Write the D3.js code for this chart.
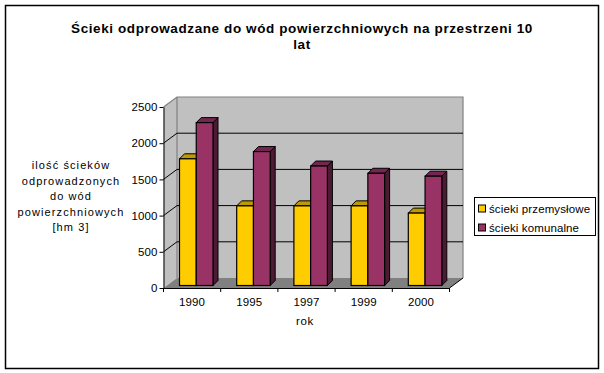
<!DOCTYPE html>
<html lang="pl">
  <head>
    <meta charset="utf-8" />
    <title>Ścieki odprowadzane do wód powierzchniowych</title>
    <script src="https://d3js.org/d3.v7.min.js"></script>
    <style>
      body { margin: 0; background: #fff; }
      svg { display: block; font-family: "Liberation Sans", sans-serif; }
      .axis path, .axis line { stroke: #000; }
      .axis text { font-size: 11.5px; fill: #000; font-family: "Liberation Sans", sans-serif; letter-spacing: 0.1px; }
    </style>
  </head>
  <body>
    <div id="chart"></div>
    <script>
      /* ---- data ---- */
      const years = ['1990', '1995', '1997', '1999', '2000'];
      const seriesNames = ['ścieki przemysłowe', 'ścieki komunalne'];
      const industrial = [1750, 1100, 1100, 1100, 1000];
      const municipal = [2250, 1850, 1650, 1550, 1510];
      const yTicks = [0, 500, 1000, 1500, 2000, 2500];
      const titleLines = ['Ścieki odprowadzane do wód powierzchniowych na przestrzeni 10', 'lat'];
      const yTitleLines = ['ilość ścieków', 'odprowadzonych', 'do wód', 'powierzchniowych', '[hm 3]'];

      /* ---- config ---- */
      const svgW = 604, svgH = 373;
      const wallDx = 13.5, wallDy = 10; // depth of the 3d box
      const barDepth = 5;
      const colors = [
        { face: '#ffcc00', top: '#bf9900', side: '#806600' },
        { face: '#993366', top: '#732650', side: '#4d1a33' }
      ];

      const svg = d3.select('#chart').append('svg').attr('width', svgW).attr('height', svgH);

      // outer frame
      svg.append('rect').attr('x', 5.5).attr('y', 5.5).attr('width', 593).attr('height', 363)
        .attr('fill', '#fff').attr('stroke', '#000').attr('stroke-width', 1.5);

      /* ---- scales ---- */
      const x = d3.scaleBand().domain(years).range([163.5, 449.5]);
      const y = d3.scaleLinear().domain([0, 2500]).range([288, 107]);
      const yBar = d3.scaleLinear().domain([0, 2500]).range([285.5, 104.5]);
      const inner = d3.scaleBand().domain(d3.range(seriesNames.length)).range([16, 49.5]);

      const x0 = x.range()[0], x1 = x.range()[1];
      const pts = (a) => a.map((p) => p.join(',')).join(' ');

      /* ---- walls and floor ---- */
      svg.append('polygon')
        .attr('points', pts([[x0, y(2500)], [x0 + wallDx, y(2500) - wallDy], [x0 + wallDx, y(0) - wallDy], [x0, y(0)]]))
        .attr('fill', '#c0c0c0');
      svg.append('rect')
        .attr('x', x0 + wallDx).attr('y', y(2500) - wallDy)
        .attr('width', x1 - x0).attr('height', y(0) - y(2500))
        .attr('fill', '#c0c0c0');
      svg.append('polygon')
        .attr('points', pts([[x0, y(0)], [x0 + wallDx, y(0) - wallDy], [x1 + wallDx, y(0) - wallDy], [x1, y(0)]]))
        .attr('fill', '#808080');
      svg.append('path')
        .attr('d', `M${x0},${y(2500)}L${x0 + wallDx},${y(2500) - wallDy}H${x1 + wallDx}V${y(0) - wallDy}M${x0 + wallDx},${y(2500) - wallDy}V${y(0) - wallDy}`)
        .attr('fill', 'none').attr('stroke', '#808080').attr('stroke-width', 1.2);

      /* ---- grid lines, on side wall and back wall ---- */
      svg.append('g').selectAll('path')
        .data(yTicks.filter((d) => d > 0 && d < 2500))
        .join('path')
        .attr('d', (d) => `M${x0},${y(d)}L${x0 + wallDx},${y(d) - wallDy}H${x1 + wallDx}`)
        .attr('fill', 'none').attr('stroke', '#000').attr('stroke-width', 1);

      /* ---- bars ---- */
      const allValues = [industrial, municipal];
      allValues.forEach((values, s) => {
        const g = svg.append('g').selectAll('g').data(values).join('g');
        const left = (d, i) => x(years[i]) + inner(s);
        const right = (d, i) => left(d, i) + inner.bandwidth();
        g.append('polygon')
          .attr('points', (d, i) => pts([[right(d, i), yBar(d)], [right(d, i) + barDepth, yBar(d) - barDepth], [right(d, i) + barDepth, yBar(0) - barDepth], [right(d, i), yBar(0)]]))
          .attr('fill', colors[s].side).attr('stroke', '#000');
        g.append('polygon')
          .attr('points', (d, i) => pts([[left(d, i), yBar(d)], [left(d, i) + barDepth, yBar(d) - barDepth], [right(d, i) + barDepth, yBar(d) - barDepth], [right(d, i), yBar(d)]]))
          .attr('fill', colors[s].top).attr('stroke', '#000');
        g.append('rect')
          .attr('x', (d, i) => left(d, i))
          .attr('y', (d) => yBar(d))
          .attr('width', inner.bandwidth())
          .attr('height', (d) => yBar(0) - yBar(d))
          .attr('fill', colors[s].face).attr('stroke', '#000').attr('stroke-width', 1.2);
      });

      /* ---- axes ---- */
      svg.append('g').attr('class', 'axis')
        .attr('transform', `translate(${x0},0)`)
        .call(d3.axisLeft(y).tickValues(yTicks).tickFormat(d3.format('d')).tickSize(4).tickSizeOuter(0).tickPadding(2));

      svg.append('g').attr('class', 'axis')
        .attr('transform', `translate(0,${y(0)})`)
        .call(d3.axisBottom(x).tickSize(0).tickPadding(10));

      // ticks sit on the category boundaries
      svg.append('g').selectAll('line')
        .data(years.map((d) => x(d)).concat([x1]))
        .join('line')
        .attr('x1', (d) => d).attr('x2', (d) => d)
        .attr('y1', y(0)).attr('y2', y(0) + 4)
        .attr('stroke', '#000');
      svg.append('line')
        .attr('x1', x1).attr('y1', y(0)).attr('x2', x1 + wallDx).attr('y2', y(0) - wallDy)
        .attr('stroke', '#000');

      /* ---- titles ---- */
      svg.append('g').selectAll('text').data(titleLines).join('text')
        .attr('x', 302).attr('y', (d, i) => 32.5 + i * 16)
        .attr('text-anchor', 'middle')
        .attr('font-size', 13.5).attr('font-weight', 'bold')
        .attr('letter-spacing', 0.6)
        .text((d) => d);

      svg.append('g').selectAll('text').data(yTitleLines).join('text')
        .attr('x', 71).attr('y', (d, i) => 169 + i * 15.5)
        .attr('text-anchor', 'middle')
        .attr('font-size', 11).attr('letter-spacing', 1.1)
        .text((d) => d);

      svg.append('text')
        .attr('x', 305).attr('y', 324.5)
        .attr('text-anchor', 'middle')
        .attr('font-size', 11.5).attr('letter-spacing', 0.6)
        .text('rok');

      /* ---- legend ---- */
      const legend = svg.append('g').attr('transform', 'translate(474.5,197.5)');
      legend.append('rect').attr('width', 121).attr('height', 38)
        .attr('fill', '#fff').attr('stroke', '#000');
      const legendRow = legend.selectAll('g').data(seriesNames).join('g')
        .attr('transform', (d, i) => `translate(4,${7.5 + i * 19})`);
      legendRow.append('rect').attr('width', 7).attr('height', 7)
        .attr('fill', (d, i) => colors[i].face).attr('stroke', '#000');
      legendRow.append('text').attr('x', 10.5).attr('y', 8)
        .attr('font-size', 11.5).attr('letter-spacing', 0.12)
        .text((d) => d);
    </script>
  </body>
</html>
